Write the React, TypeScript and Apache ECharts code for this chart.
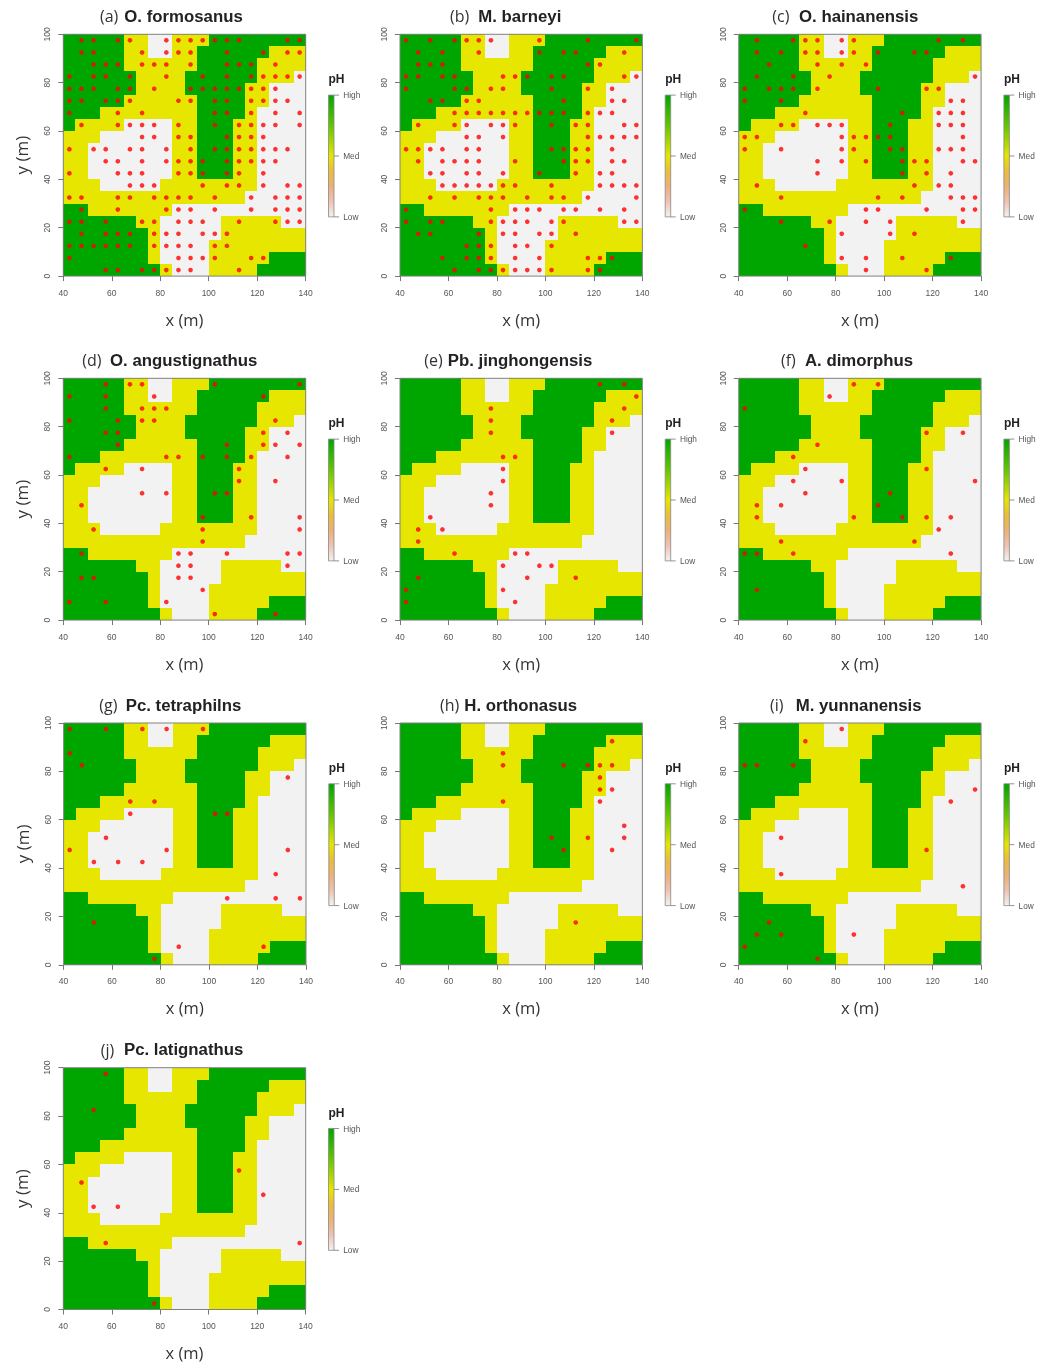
import React, { useEffect, useRef } from "react";
import * as echarts from "echarts";

// pH class of each 5 m cell: 2 = high, 1 = medium, 0 = low.
// Rows run from y = 95-100 (top) down to y = 0-5; columns from x = 40-45 to x = 135-140.
const phRows: number[][] = [
  [2,2,2,2,2,1,1,0,0,1,1,1,2,2,2,2,2,2,2,2],
  [2,2,2,2,2,1,1,0,0,1,1,2,2,2,2,2,2,1,1,1],
  [2,2,2,2,2,1,1,1,1,1,1,2,2,2,2,2,1,1,1,1],
  [2,2,2,2,2,2,1,1,1,1,2,2,2,2,2,2,1,1,1,0],
  [2,2,2,2,2,2,1,1,1,1,2,2,2,2,2,1,1,0,0,0],
  [2,2,2,2,2,1,1,1,1,1,1,2,2,2,2,1,1,0,0,0],
  [2,2,2,1,1,1,1,1,1,1,1,2,2,2,2,1,0,0,0,0],
  [2,1,1,1,1,0,0,0,0,1,1,2,2,2,1,1,0,0,0,0],
  [1,1,1,0,0,0,0,0,0,1,1,2,2,2,1,1,0,0,0,0],
  [1,1,0,0,0,0,0,0,0,1,1,2,2,2,1,1,0,0,0,0],
  [1,1,0,0,0,0,0,0,0,1,1,2,2,2,1,1,0,0,0,0],
  [1,1,0,0,0,0,0,0,0,1,1,2,2,2,1,1,0,0,0,0],
  [1,1,1,0,0,0,0,0,1,1,1,1,1,1,1,1,0,0,0,0],
  [1,1,1,1,1,1,1,1,1,1,1,1,1,1,1,0,0,0,0,0],
  [2,2,1,1,1,1,1,1,1,0,0,0,0,0,0,0,0,0,0,0],
  [2,2,2,2,2,2,1,1,0,0,0,0,0,1,1,1,1,1,0,0],
  [2,2,2,2,2,2,2,1,0,0,0,0,0,1,1,1,1,1,1,1],
  [2,2,2,2,2,2,2,1,0,0,0,0,1,1,1,1,1,1,1,1],
  [2,2,2,2,2,2,2,1,0,0,0,0,1,1,1,1,1,2,2,2],
  [2,2,2,2,2,2,2,2,1,0,0,0,1,1,1,1,2,2,2,2],
];
const phColors = ["#F2F2F2", "#E6E600", "#00A600"];

// Occurrence points as [y, [x, x, ...]] for each species.
type Rows = [number, number[]][];
const dotsA: Rows = [
  [97.5,[47.5,52.5,62.5,67.5,82.5,87.5,92.5,97.5,102.5,107.5,112.5,132.5,137.5]],
  [92.5,[47.5,52.5,72.5,82.5,87.5,92.5,107.5,122.5,132.5,137.5]],
  [87.5,[52.5,57.5,62.5,72.5,77.5,82.5,92.5,107.5,112.5,117.5,127.5]],
  [82.5,[42.5,52.5,57.5,67.5,82.5,97.5,107.5,117.5,122.5,127.5,132.5,137.5]],
  [77.5,[42.5,47.5,52.5,62.5,67.5,77.5,92.5,97.5,102.5,107.5,112.5,117.5,122.5,127.5]],
  [72.5,[42.5,47.5,57.5,62.5,67.5,87.5,92.5,102.5,107.5,117.5,122.5,127.5,132.5]],
  [67.5,[42.5,62.5,72.5,102.5,107.5,117.5,127.5,137.5]],
  [62.5,[47.5,62.5,67.5,72.5,77.5,87.5,102.5,112.5,117.5,122.5,127.5,137.5]],
  [57.5,[72.5,77.5,87.5,92.5,107.5,112.5,117.5,122.5]],
  [52.5,[42.5,52.5,57.5,67.5,72.5,82.5,92.5,102.5,107.5,112.5,117.5,122.5,127.5,132.5]],
  [47.5,[57.5,62.5,72.5,82.5,87.5,92.5,97.5,107.5,112.5,117.5,122.5,127.5]],
  [42.5,[42.5,62.5,67.5,72.5,87.5,92.5,97.5,107.5,112.5,122.5]],
  [37.5,[67.5,72.5,77.5,97.5,107.5,112.5,122.5,132.5,137.5]],
  [32.5,[42.5,47.5,62.5,67.5,77.5,82.5,87.5,92.5,102.5,117.5,127.5,132.5,137.5]],
  [27.5,[47.5,62.5,82.5,87.5,92.5,102.5,117.5,127.5,132.5,137.5]],
  [22.5,[42.5,47.5,57.5,72.5,77.5,87.5,92.5,97.5,112.5,127.5,132.5,137.5]],
  [17.5,[47.5,57.5,62.5,67.5,77.5,82.5,87.5,97.5,102.5,107.5]],
  [12.5,[42.5,47.5,52.5,57.5,62.5,67.5,77.5,82.5,87.5,92.5,102.5,107.5]],
  [7.5,[42.5,87.5,92.5,97.5,102.5,117.5,122.5]],
  [2.5,[57.5,62.5,72.5,77.5,82.5,87.5,92.5,112.5]],
];
const dotsB: Rows = [
  [97.5,[42.5,52.5,62.5,67.5,72.5,77.5,97.5,117.5,137.5]],
  [92.5,[47.5,57.5,72.5,97.5,107.5,112.5,132.5]],
  [87.5,[47.5,52.5,57.5,117.5,122.5]],
  [82.5,[42.5,47.5,57.5,62.5,82.5,87.5,92.5,102.5,107.5,132.5,137.5]],
  [77.5,[42.5,62.5,67.5,77.5,82.5,102.5,117.5,127.5]],
  [72.5,[52.5,57.5,67.5,72.5,107.5,127.5,132.5]],
  [67.5,[62.5,67.5,72.5,77.5,82.5,87.5,92.5,97.5,102.5,107.5,117.5,122.5,127.5]],
  [62.5,[47.5,62.5,67.5,77.5,82.5,87.5,102.5,112.5,117.5,132.5,137.5]],
  [57.5,[67.5,72.5,82.5,117.5,122.5,127.5,132.5,137.5]],
  [52.5,[42.5,47.5,52.5,57.5,67.5,72.5,102.5,107.5,112.5,117.5,127.5]],
  [47.5,[47.5,57.5,62.5,67.5,72.5,87.5,107.5,112.5,117.5,127.5,132.5]],
  [42.5,[52.5,57.5,67.5,72.5,82.5,97.5,112.5,122.5,127.5]],
  [37.5,[57.5,62.5,67.5,72.5,77.5,82.5,87.5,102.5,122.5,127.5,132.5,137.5]],
  [32.5,[52.5,62.5,72.5,77.5,82.5,92.5,102.5,107.5,117.5,137.5]],
  [27.5,[42.5,77.5,87.5,92.5,97.5,107.5,112.5,122.5,132.5]],
  [22.5,[42.5,52.5,57.5,77.5,82.5,87.5,92.5,102.5,107.5,132.5,137.5]],
  [17.5,[47.5,52.5,72.5,82.5,87.5,97.5,102.5,112.5]],
  [12.5,[67.5,72.5,77.5,87.5,92.5,102.5]],
  [7.5,[57.5,67.5,72.5,77.5,87.5,97.5,117.5,122.5,127.5]],
  [2.5,[62.5,72.5,77.5,82.5,87.5,92.5,97.5,102.5,117.5,122.5]],
];
const dotsC: Rows = [
  [97.5,[47.5,62.5,67.5,72.5,82.5,87.5,122.5,132.5]],
  [92.5,[47.5,57.5,67.5,72.5,82.5,87.5,97.5,112.5,117.5]],
  [87.5,[52.5,72.5,82.5,92.5]],
  [82.5,[47.5,62.5,77.5,137.5]],
  [77.5,[42.5,52.5,57.5,62.5,72.5,97.5,117.5,122.5]],
  [72.5,[42.5,57.5,127.5,132.5]],
  [67.5,[67.5,107.5,122.5,127.5,132.5]],
  [62.5,[57.5,62.5,72.5,77.5,82.5,102.5,122.5,127.5,132.5]],
  [57.5,[42.5,47.5,82.5,87.5,92.5,97.5,102.5,132.5]],
  [52.5,[42.5,57.5,82.5,87.5,102.5,107.5,122.5,127.5,132.5]],
  [47.5,[72.5,82.5,92.5,107.5,112.5,117.5,132.5,137.5]],
  [42.5,[72.5,107.5,117.5,127.5]],
  [37.5,[47.5,112.5,122.5,127.5]],
  [32.5,[57.5,97.5,107.5,127.5,132.5,137.5]],
  [27.5,[42.5,92.5,97.5,117.5,132.5,137.5]],
  [22.5,[57.5,77.5,92.5,102.5,132.5]],
  [17.5,[82.5,102.5,112.5]],
  [12.5,[67.5]],
  [7.5,[82.5,92.5,107.5,127.5]],
  [2.5,[92.5,117.5]],
];
const dotsD: Rows = [
  [97.5,[57.5,67.5,72.5,102.5,137.5]],
  [92.5,[42.5,57.5,77.5,122.5]],
  [87.5,[57.5,72.5,77.5,82.5]],
  [82.5,[42.5,62.5,72.5,77.5,127.5]],
  [77.5,[57.5,62.5,122.5,132.5]],
  [72.5,[62.5,107.5,122.5,127.5,137.5]],
  [67.5,[42.5,82.5,87.5,97.5,107.5,117.5,132.5]],
  [62.5,[57.5,72.5,112.5]],
  [57.5,[112.5,127.5]],
  [52.5,[72.5,82.5,102.5,107.5]],
  [47.5,[47.5]],
  [42.5,[97.5,117.5,137.5]],
  [37.5,[52.5,97.5,137.5]],
  [32.5,[97.5]],
  [27.5,[47.5,87.5,92.5,107.5,132.5,137.5]],
  [22.5,[87.5,92.5,132.5]],
  [17.5,[47.5,52.5,87.5,92.5]],
  [12.5,[97.5]],
  [7.5,[42.5,57.5,82.5]],
  [2.5,[102.5,127.5]],
];
const dotsE: Rows = [
  [97.5,[122.5,132.5]],
  [92.5,[137.5]],
  [87.5,[77.5,132.5]],
  [82.5,[77.5,127.5]],
  [77.5,[77.5,127.5]],
  [67.5,[82.5,87.5]],
  [62.5,[82.5]],
  [57.5,[82.5]],
  [52.5,[77.5]],
  [47.5,[77.5]],
  [42.5,[52.5]],
  [37.5,[47.5,57.5]],
  [32.5,[47.5]],
  [27.5,[62.5,87.5,92.5]],
  [22.5,[82.5,97.5,102.5]],
  [17.5,[47.5,92.5,112.5]],
  [12.5,[42.5,82.5]],
  [7.5,[42.5,87.5]],
];
const dotsF: Rows = [
  [97.5,[87.5,97.5]],
  [92.5,[77.5]],
  [87.5,[42.5]],
  [77.5,[117.5,132.5]],
  [72.5,[72.5]],
  [67.5,[62.5]],
  [62.5,[67.5,117.5]],
  [57.5,[62.5,82.5,137.5]],
  [52.5,[67.5,102.5]],
  [47.5,[47.5,57.5,97.5]],
  [42.5,[47.5,87.5,107.5,117.5,127.5]],
  [37.5,[122.5]],
  [32.5,[57.5,112.5]],
  [27.5,[42.5,47.5,62.5,127.5]],
  [12.5,[47.5]],
];
const dotsG: Rows = [
  [97.5,[42.5,57.5,72.5,82.5,97.5]],
  [87.5,[42.5]],
  [82.5,[47.5]],
  [77.5,[132.5]],
  [67.5,[67.5,77.5]],
  [62.5,[67.5,102.5,107.5]],
  [52.5,[57.5]],
  [47.5,[42.5,82.5,132.5]],
  [42.5,[52.5,62.5,72.5]],
  [37.5,[127.5]],
  [27.5,[107.5,127.5,137.5]],
  [17.5,[52.5]],
  [7.5,[87.5,122.5]],
  [2.5,[77.5]],
];
const dotsH: Rows = [
  [92.5,[127.5]],
  [87.5,[82.5]],
  [82.5,[82.5,107.5,117.5,122.5,127.5]],
  [77.5,[122.5]],
  [72.5,[122.5,127.5]],
  [67.5,[82.5,122.5]],
  [57.5,[132.5]],
  [52.5,[102.5,117.5,132.5]],
  [47.5,[107.5,127.5]],
  [17.5,[112.5]],
];
const dotsI: Rows = [
  [97.5,[82.5]],
  [92.5,[67.5]],
  [82.5,[42.5,47.5,62.5]],
  [72.5,[137.5]],
  [67.5,[127.5]],
  [52.5,[57.5]],
  [47.5,[117.5]],
  [37.5,[57.5]],
  [32.5,[132.5]],
  [17.5,[52.5]],
  [12.5,[47.5,57.5,87.5]],
  [7.5,[42.5]],
  [2.5,[72.5]],
];
const dotsJ: Rows = [
  [97.5,[57.5]],
  [82.5,[52.5]],
  [57.5,[112.5]],
  [52.5,[47.5]],
  [47.5,[122.5]],
  [42.5,[52.5,62.5]],
  [27.5,[57.5,137.5]],
  [2.5,[77.5]],
];

const panelTags = ["(a)","(b)","(c)","(d)","(e)","(f)","(g)","(h)","(i)","(j)"];
const speciesNames = [
  "O. formosanus","M. barneyi","O. hainanensis","O. angustignathus","Pb. jinghongensis",
  "A. dimorphus","Pc. tetraphilns","H. orthonasus","M. yunnanensis","Pc. latignathus",
];
const speciesDots = [dotsA,dotsB,dotsC,dotsD,dotsE,dotsF,dotsG,dotsH,dotsI,dotsJ];
const legendLabels = ["High","Med","Low"];

// Layout in page pixels, kept apart from the data.
const plotLeft = [63.3,400,738.7,63.3,400,738.7,63.6,400,738.7,63.3];
const plotTop = [34.3,34.3,34.3,378.3,378.3,378.3,723,723,723,1067.7];
const tagX = [100,450,772.3,82.3,424.3,781,99.3,440,770,100.7];
const nameX = [124.3,478.3,799,110,447.7,805,125.7,464.3,795.7,124];
const PLOT_W = 242.4;
const PLOT_H = 241.8;
const CELL = 5;

const sansText = "'Open Sans', sans-serif";
const arialText = "'Liberation Sans', Arial, sans-serif";

export default function App() {
  const ref = useRef<HTMLDivElement>(null);
  useEffect(() => {
    if (!ref.current) return;
    const chart = echarts.init(ref.current, undefined, { renderer: "svg" });

    const cells: number[][] = [];
    phRows.forEach((row, r) =>
      row.forEach((level, c) => cells.push([40 + c * CELL, 95 - r * CELL, level]))
    );

    const grid: any[] = [];
    const xAxis: any[] = [];
    const yAxis: any[] = [];
    const series: any[] = [];
    const graphic: any[] = [];

    speciesNames.forEach((name, i) => {
      const left = plotLeft[i];
      const top = plotTop[i];
      grid.push({
        left, top, width: PLOT_W, height: PLOT_H, show: true, z: 10,
        backgroundColor: "transparent", borderColor: "#808080", borderWidth: 1,
      });
      xAxis.push({
        type: "value", gridIndex: i, min: 40, max: 140, interval: 20, z: 11,
        name: "x (m)", nameLocation: "middle", nameGap: 43,
        nameTextStyle: { fontFamily: sansText, fontSize: 16.5, color: "#333", verticalAlign: "middle" },
        axisLine: { show: false },
        axisTick: { show: true, length: 5, lineStyle: { color: "#777", width: 1 } },
        axisLabel: { fontFamily: arialText, fontSize: 8.5, color: "#555", margin: 12 },
        splitLine: { show: false },
      });
      yAxis.push({
        type: "value", gridIndex: i, min: 0, max: 100, interval: 20, z: 11,
        name: i % 3 === 0 ? "y (m)" : "", nameLocation: "middle", nameGap: 41.6, nameRotate: 90,
        nameTextStyle: { fontFamily: sansText, fontSize: 17, color: "#333", verticalAlign: "middle" },
        axisLine: { show: false },
        axisTick: { show: true, length: 5, lineStyle: { color: "#777", width: 1 } },
        axisLabel: { fontFamily: arialText, fontSize: 8.5, color: "#555", margin: 16, rotate: 90, align: "center", verticalAlign: "middle" },
        splitLine: { show: false },
      });
      series.push({
        type: "custom", xAxisIndex: i, yAxisIndex: i, z: 2, silent: true,
        data: cells, encode: { x: 0, y: 1 }, clip: false,
        renderItem: (_p: any, api: any) => {
          const x0 = api.value(0);
          const y0 = api.value(1);
          const a = api.coord([x0, y0 + CELL]);
          const b = api.coord([x0 + CELL, y0]);
          const rx = Math.round(a[0]);
          const ry = Math.round(a[1]);
          return {
            type: "rect",
            shape: { x: rx, y: ry, width: Math.round(b[0]) - rx, height: Math.round(b[1]) - ry },
            style: { fill: phColors[api.value(2)] },
          };
        },
      });
      series.push({
        type: "scatter", xAxisIndex: i, yAxisIndex: i, z: 20, silent: true,
        symbol: "circle", symbolSize: 4.6,
        itemStyle: { color: "#FF0000" },
        data: speciesDots[i].flatMap(([y, xs]) => xs.map((x) => [x, y])),
      });

      const headY = top - 18;
      graphic.push({
        type: "text", x: tagX[i], y: headY, silent: true,
        style: { text: panelTags[i], font: `16px ${sansText}`, fill: "#333", textVerticalAlign: "middle" },
      });
      graphic.push({
        type: "text", x: nameX[i], y: headY, silent: true,
        style: { text: name, font: `bold 16.8px ${arialText}`, fill: "#222", textVerticalAlign: "middle" },
      });

      const barX = left + PLOT_W + 22.8;
      const barTop = top + 60.8;
      const barH = 121.8;
      graphic.push({
        type: "text", x: barX, y: top + 45, silent: true,
        style: { text: "pH", font: `bold 12px ${arialText}`, fill: "#222", textVerticalAlign: "middle" },
      });
      graphic.push({
        type: "rect", silent: true, shape: { x: barX, y: barTop, width: 5.5, height: barH },
        style: {
          stroke: "#888", lineWidth: 0.8,
          fill: {
            type: "linear", x: 0, y: 0, x2: 0, y2: 1,
            colorStops: [
              { offset: 0, color: "#00A600" },
              { offset: 0.25, color: "#63C600" },
              { offset: 0.5, color: "#E6E600" },
              { offset: 0.625, color: "#E9BD3A" },
              { offset: 0.75, color: "#ECB176" },
              { offset: 0.875, color: "#EFC2B3" },
              { offset: 1, color: "#F2F2F2" },
            ],
          },
        },
      });
      legendLabels.forEach((label, k) => {
        const ly = barTop + (barH * k) / 2;
        graphic.push({
          type: "line", silent: true,
          shape: { x1: barX + 5.5, y1: ly, x2: barX + 10.5, y2: ly },
          style: { stroke: "#777", lineWidth: 0.8 },
        });
        graphic.push({
          type: "text", x: barX + 14.7, y: ly, silent: true,
          style: { text: label, font: `8.3px ${arialText}`, fill: "#555", textVerticalAlign: "middle" },
        });
      });
    });

    chart.setOption({
      animation: false,
      backgroundColor: "#fff",
      grid, xAxis, yAxis, series, graphic,
    });
    return () => chart.dispose();
  }, []);
  return (
    <div
      ref={ref}
      style={{ position: "absolute", left: 0, top: 0, width: 1040, height: 1365, filter: "blur(0.35px)" }}
    />
  );
}
